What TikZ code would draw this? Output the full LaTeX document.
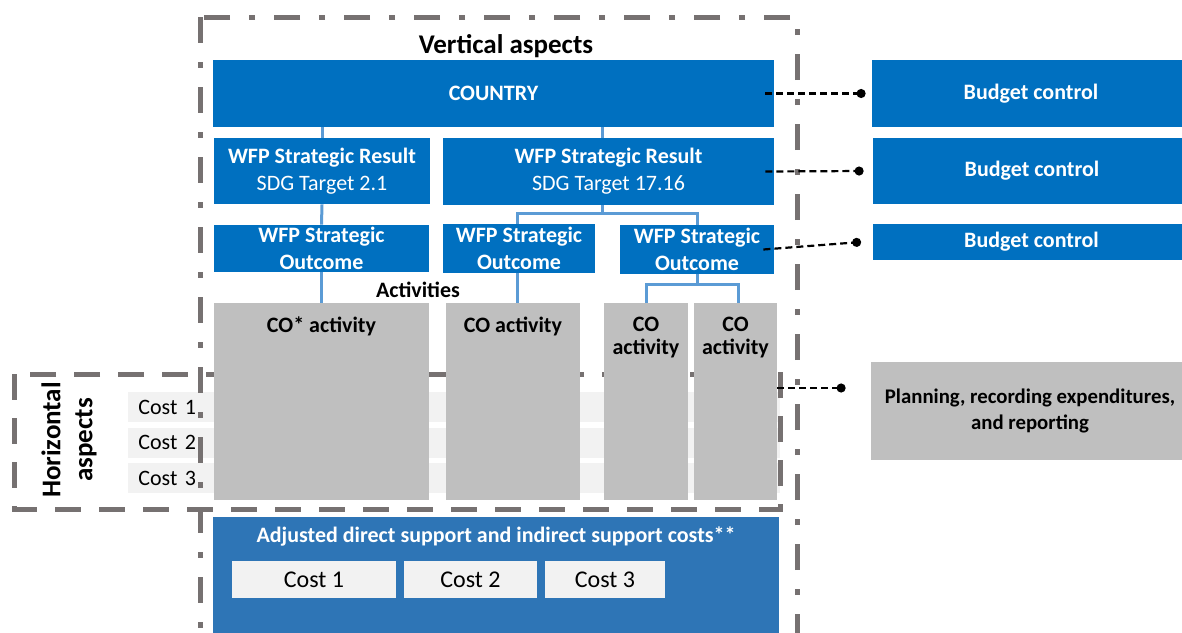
\documentclass[tikz,border=0pt]{standalone}
\usepackage{fontspec}
\setmainfont{Carlito}
\usetikzlibrary{arrows.meta}

\definecolor{wfpblue}{HTML}{0070C0}
\definecolor{supblue}{HTML}{2E75B6}
\definecolor{linkblue}{HTML}{5B9BD5}
\definecolor{actgray}{HTML}{BFBFBF}
\definecolor{costgray}{HTML}{F2F2F2}
\definecolor{framegray}{HTML}{767171}

\newcommand{\bodyfont}{\fontsize{11}{13.5}\selectfont}
\newcommand{\titlefont}{\fontsize{13.5}{16}\selectfont\bfseries}

\begin{document}
\begin{tikzpicture}[x=0.5pt,y=-0.5pt,
  bluebox/.style={fill=wfpblue,text=white,align=center,inner sep=0pt,font=\bodyfont},
  rightbox/.style={bluebox,minimum width=159pt,font=\bodyfont\bfseries},
  actbox/.style={fill=actgray,inner sep=0pt,minimum height=98.5pt},
  actlabel/.style={anchor=north,inner sep=0pt,yshift=-7pt,align=center,font=\fontsize{11}{11.5}\selectfont\bfseries},
  costrow/.style={fill=costgray,anchor=west,inner ysep=0pt,inner xsep=5pt,minimum height=15pt,text width=316pt,align=left,font=\bodyfont},
  costbox/.style={fill=costgray,inner sep=0pt,minimum height=18.5pt,font=\fontsize{12}{14}\selectfont},
  link/.style={draw=linkblue,line width=1.5pt},
  tie/.style={draw=black,line width=1.1pt,dash pattern=on 3.5pt off 2pt,-{Circle[length=4.5pt]}},
  aspectframe/.style={draw=framegray,line width=2.5pt}]
\useasboundingbox (0,0) rectangle (1182,632);
\clip (0,0) rectangle (1182,632);

% cost rows behind everything
\node[costrow] (row1) at (128,407) {Cost 1};
\node[costrow] (row2) at (128,442.5) {Cost 2};
\node[costrow] (row3) at (128,478) {Cost 3};

% the two frames
\draw[aspectframe,dash pattern=on 13pt off 9.5pt on 3pt off 9.5pt] (200,17) rectangle (797,660);
\draw[aspectframe,dash pattern=on 13pt off 9pt] (14,374) rectangle (780,509);
\node[font=\titlefont] (vert) at (506,46) {Vertical aspects};
\node[font=\titlefont,rotate=90,align=center] (horiz) at (69,440) {Horizontal\\aspects};

% vertical tree
\node[bluebox,minimum width=280.5pt,minimum height=33.5pt,font=\bodyfont\bfseries] (country) at (493.5,93.5) {COUNTRY};
\node[bluebox,minimum width=108pt,minimum height=33pt] (sr1) at (322,171) {\textbf{WFP Strategic Result}\\SDG Target 2.1};
\node[bluebox,minimum width=165.5pt,minimum height=33.5pt] (sr2) at (608.5,171.5) {\textbf{WFP Strategic Result}\\SDG Target 17.16};
\node[bluebox,minimum width=107.5pt,minimum height=23.5pt,font=\bodyfont\bfseries] (so1) at (321.5,248.5) {WFP Strategic\\Outcome};
\node[bluebox,minimum width=76pt,minimum height=24.5pt,font=\bodyfont\bfseries] (so2) at (519,248.5) {WFP Strategic\\Outcome};
\node[bluebox,minimum width=77pt,minimum height=24.5pt,font=\bodyfont\bfseries] (so3) at (697,249.5) {WFP Strategic\\Outcome};
\node[font=\bodyfont\bfseries] (acts) at (418,290) {Activities};

\node[actbox,minimum width=107.5pt,label={[actlabel]north:CO* activity}] (act1) at (321.5,401.5) {};
\node[actbox,minimum width=67pt,label={[actlabel]north:CO activity}] (act2) at (513,401.5) {};
\node[actbox,minimum width=42pt,label={[actlabel]north:CO\\activity}] (act3) at (646,401.5) {};
\node[actbox,minimum width=41.5pt,label={[actlabel]north:CO\\activity}] (act4) at (735.5,401.5) {};

\draw[link] (sr1.north |- country.south) -- (sr1.north);
\draw[link] (602,127) -- (602,138);
\draw[link] (sr1.south) -- (so1.north);
\draw[link] (602,205) -- (602,213) coordinate (bus2);
\draw[link] (so2.north -| 517,0) |- (bus2) -| (so3.north);
\draw[link] (so1.south) -- (act1.north -| so1.south);
\draw[link] (517,273) -- (517,303);
\draw[link] (so3.south) -- ++(0,10) coordinate (bus3);
\draw[link] (act3.north) |- (bus3) -| (738,303);

% support costs
\node[fill=supblue,inner sep=0pt,minimum width=283pt,minimum height=61.5pt,
  label={[anchor=north,inner sep=0pt,yshift=-5pt,text=white,font=\bodyfont\bfseries]north:Adjusted direct support and indirect support costs**}] (support) at (496,578.5) {};
\node[costbox,minimum width=82pt] (cost1) at (314,579.5) {Cost 1};
\node[costbox,minimum width=66.5pt] (cost2) at (470.5,579.5) {Cost 2};
\node[costbox,minimum width=60pt] (cost3) at (605,579.5) {Cost 3};

% right hand side
\node[rightbox,minimum height=33.5pt] (bc1) at (1031,93.5) {Budget control};
\node[rightbox,minimum height=33pt] (bc2) at (1032,171) {Budget control};
\node[rightbox,minimum height=18pt] (bc3) at (1031.5,242) {Budget control};
\node[fill=actgray,inner sep=0pt,minimum width=159pt,minimum height=49pt,align=center,font=\fontsize{10.4}{13}\selectfont\bfseries] (plan) at (1030,411) {Planning, recording expenditures,\\and reporting};

\coordinate (planrow) at (0,388);
\draw[tie] ([xshift=-4.5pt]country.east) -- ([xshift=-3pt]bc1.west);
\draw[tie] ([xshift=-4.5pt]sr2.east) -- ([xshift=-4.5pt]bc2.west);
\draw[tie] ([xshift=-5.5pt]so3.east) -- ([xshift=-5.5pt]bc3.west);
\draw[tie] (act4.east |- planrow) -- ([xshift=-12.5pt]plan.west |- planrow);
\end{tikzpicture}
\end{document}
